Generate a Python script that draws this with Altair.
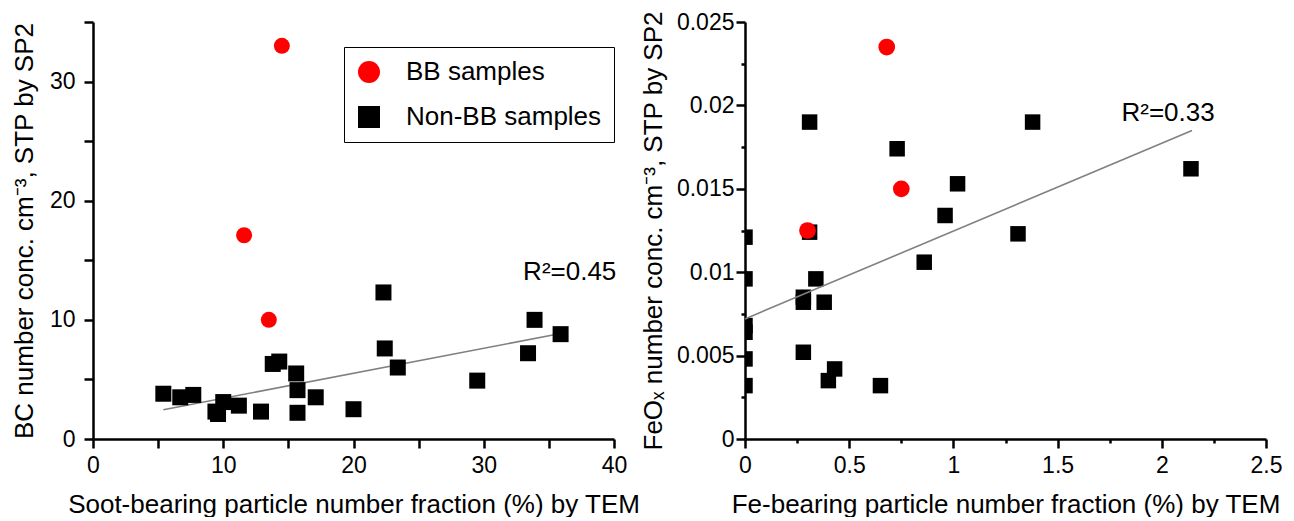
import altair as alt
import pandas as pd

FONT = "Liberation Sans"

# ---------------- data ----------------
groups = ["BB samples", "Non-BB samples"]

# Left panel: soot fraction (%) vs BC number conc.
soot_bb_x = [14.5, 11.6, 13.5]
bc_bb_y = [33.0, 17.1, 10.0]
soot_non_x = [5.4, 6.7, 7.7, 9.4, 9.6, 10.0, 11.2, 12.9, 13.8, 14.3, 15.6,
              15.7, 15.7, 17.1, 20.0, 22.3, 22.4, 23.4, 29.5, 33.4, 33.9, 35.9]
bc_non_y = [3.8, 3.5, 3.7, 2.3, 2.1, 3.1, 2.8, 2.3, 6.3, 6.5, 5.5,
            4.1, 2.2, 3.5, 2.5, 12.3, 7.6, 6.0, 4.9, 7.2, 10.0, 8.8]
soot_fit_x = [5.4, 35.9]
bc_fit_y = [2.45, 8.85]
soot_r2 = ["R²=0.45"]
soot_r2_x = [36.6]
soot_r2_y = [14.0]

# Right panel: Fe fraction (%) vs FeOx number conc.
fe_bb_x = [0.68, 0.75, 0.30]
feox_bb_y = [0.0235, 0.0150, 0.0125]
fe_non_x = [0, 0, 0, 0, 0, 0, 0.31, 0.31, 0.73, 0.34, 0.28, 0.28, 0.38, 0.28,
            0.43, 0.40, 0.65, 0.86, 0.96, 1.02, 1.31, 1.38, 2.14]
feox_non_y = [0.0121, 0.0096, 0.0068, 0.0064, 0.0048, 0.0032, 0.0190, 0.0124,
              0.0174, 0.0096, 0.0085, 0.0082, 0.0082, 0.0052, 0.0042, 0.0035,
              0.0032, 0.0106, 0.0134, 0.0153, 0.0123, 0.0190, 0.0162]
fe_fit_x = [0.0, 2.145]
feox_fit_y = [0.0072, 0.0185]
fe_r2 = ["R²=0.33"]
fe_r2_x = [2.03]
fe_r2_y = [0.01955]

# tick values / labels
soot_ticks = [0, 2.5, 5, 7.5, 10, 12.5, 15, 17.5, 20, 22.5, 25, 27.5, 30, 32.5, 35, 37.5, 40]
bc_ticks = [0, 2.5, 5, 7.5, 10, 12.5, 15, 17.5, 20, 22.5, 25, 27.5, 30, 32.5, 35]
fe_ticks = [0, 0.25, 0.5, 0.75, 1, 1.25, 1.5, 1.75, 2, 2.25, 2.5]
feox_ticks = [0, 0.0025, 0.005, 0.0075, 0.01, 0.0125, 0.015, 0.0175, 0.02, 0.0225, 0.025]

W, H = 521, 417


def mult(step):
    return f"abs(datum.value / {step} - round(datum.value / {step})) < 1e-6"


def make_axis(values, major_step, label_step, title, orient, title_pad, label_pad):
    return alt.Axis(
        values=values,
        title=title,
        orient=orient,
        labelExpr=f"{mult(label_step)} ? format(datum.value, '~g') : ''",
        tickSize={"condition": {"test": mult(major_step), "value": 9}, "value": 4},
        labelFlush=False,
        labelOverlap=False,
        labelPadding=label_pad,
        titlePadding=title_pad,
        grid=False,
    )


# ---------------- left panel ----------------
left_df = pd.DataFrame({
    "x": soot_non_x + soot_bb_x,
    "y": bc_non_y + bc_bb_y,
    "group": [groups[1]] * len(soot_non_x) + [groups[0]] * len(soot_bb_x),
})
legend = alt.Legend(
    title=None, orient="none", legendX=251, legendY=25,
    labelFont=FONT, labelFontSize=26, labelColor="black", labelLimit=400,
    symbolSize=484, symbolStrokeWidth=0, labelOffset=24,
    padding=12, rowPadding=19, strokeColor="black", fillColor="white",
)
xs_left = alt.X("x:Q", scale=alt.Scale(domain=[0, 40], nice=False, zero=False),
                axis=make_axis(soot_ticks, 5, 10,
                               "Soot-bearing particle number fraction (%) by TEM", "bottom", 14, 6))
ys_left = alt.Y("y:Q", scale=alt.Scale(domain=[0, 35], nice=False, zero=False),
                axis=make_axis(bc_ticks, 5, 10,
                               "BC number conc. cm⁻³, STP by SP2", "left", 12, 9))

left_pts = alt.Chart(left_df).mark_point(filled=True, opacity=1, size=256).encode(
    x=xs_left, y=ys_left,
    color=alt.Color("group:N", scale=alt.Scale(domain=groups, range=["#ff0000", "#000000"]), legend=legend),
    shape=alt.Shape("group:N", scale=alt.Scale(domain=groups, range=["circle", "square"]), legend=legend),
)
left_fit = alt.Chart(pd.DataFrame({"x": soot_fit_x, "y": bc_fit_y})).mark_line(
    color="#808080", strokeWidth=1.6).encode(x="x:Q", y="y:Q")
left_txt = alt.Chart(pd.DataFrame({"x": soot_r2_x, "y": soot_r2_y, "t": soot_r2})).mark_text(
    font=FONT, fontSize=26, color="black", align="center", baseline="middle").encode(
    x="x:Q", y="y:Q", text="t:N")
left = alt.layer(left_fit, left_pts, left_txt).properties(width=W, height=H)

# ---------------- right panel ----------------
right_non = pd.DataFrame({"x": fe_non_x, "y": feox_non_y})
right_bb = pd.DataFrame({"x": fe_bb_x, "y": feox_bb_y})
xs_right = alt.X("x:Q", scale=alt.Scale(domain=[0, 2.5], nice=False, zero=False),
                 axis=make_axis(fe_ticks, 0.5, 0.5,
                                "Fe-bearing particle number fraction (%) by TEM", "bottom", 14, 6))
ys_right = alt.Y("y:Q", scale=alt.Scale(domain=[0, 0.025], nice=False, zero=False),
                 axis=make_axis(feox_ticks, 0.005, 0.005,
                                "FeOₓ number conc. cm⁻³, STP by SP2", "left", 10, 2))
r_non = alt.Chart(right_non).mark_point(filled=True, opacity=1, shape="square", size=240,
                                        color="#000000", clip=True).encode(x=xs_right, y=ys_right)
r_bb = alt.Chart(right_bb).mark_point(filled=True, opacity=1, shape="circle", size=280,
                                      color="#ff0000", clip=True).encode(x="x:Q", y="y:Q")
r_fit = alt.Chart(pd.DataFrame({"x": fe_fit_x, "y": feox_fit_y})).mark_line(
    color="#808080", strokeWidth=1.6).encode(x="x:Q", y="y:Q")
r_txt = alt.Chart(pd.DataFrame({"x": fe_r2_x, "y": fe_r2_y, "t": fe_r2})).mark_text(
    font=FONT, fontSize=26, color="black", align="center", baseline="middle").encode(
    x="x:Q", y="y:Q", text="t:N")
right = alt.layer(r_non, r_fit, r_bb, r_txt).properties(width=W, height=H)

chart = alt.hconcat(left, right, spacing=0).properties(
    padding={"left": 3, "top": 2, "right": 0, "bottom": 0},
    background="white",
).configure_view(stroke=None).configure_axis(
    domainColor="black", domainWidth=2.5, tickColor="black", tickWidth=2.5,
    labelFont=FONT, labelFontSize=23, labelColor="black",
    titleFont=FONT, titleFontSize=26, titleFontWeight="normal", titleColor="black",
)

chart.save("out.html", embed_options={"renderer": "svg", "actions": False})
